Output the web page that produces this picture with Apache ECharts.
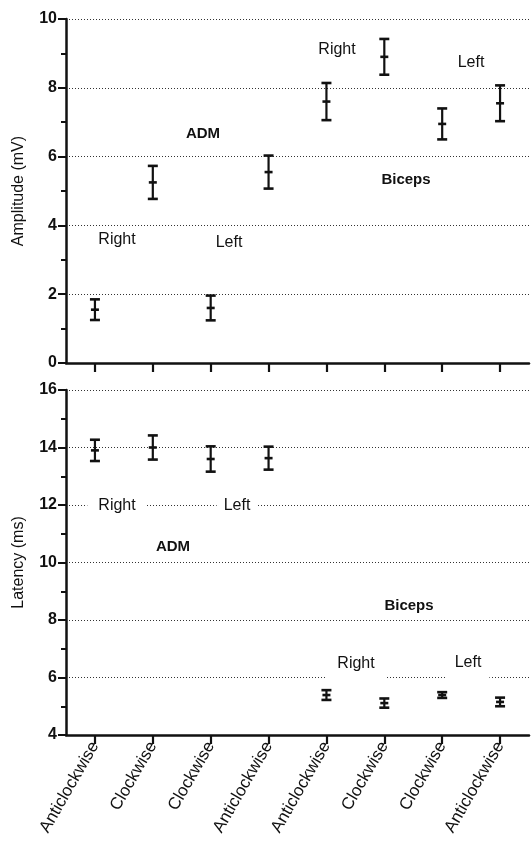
<!DOCTYPE html>
<html>
<head>
<meta charset="utf-8">
<script src="https://cdn.jsdelivr.net/npm/echarts@6/dist/echarts.min.js"></script>
<style>
  html, body { margin: 0; padding: 0; background: #fff; }
  #chart { width: 531px; height: 847px; }
</style>
</head>
<body>
<div id="chart"></div>
<script>
// Rotation direction for each stimulation condition (x axis)
const categories = ['Anticlockwise', 'Clockwise', 'Clockwise', 'Anticlockwise',
                    'Anticlockwise', 'Clockwise', 'Clockwise', 'Anticlockwise'];

// Response amplitude (mV): mean and error
const amplitudeMean = [1.55, 5.25, 1.6, 5.55, 7.6, 8.9, 6.95, 7.55];
const amplitudeErr  = [0.30, 0.48, 0.36, 0.48, 0.54, 0.52, 0.45, 0.52];

// Response latency (ms): mean and error
const latencyMean = [13.9, 14.0, 13.6, 13.63, 5.39, 5.11, 5.39, 5.15];
const latencyErr  = [0.37, 0.42, 0.44, 0.40, 0.17, 0.16, 0.10, 0.15];

// Y axis ranges
const amplitudeAxis = { min: 0, max: 10, interval: 2 };
const latencyAxis   = { min: 4, max: 16, interval: 2 };

const INK = '#111';
const FONT = 'Liberation Sans, Arial, Helvetica, sans-serif';

function toRows(means, errs) {
  return means.map((m, i) => [i, m, errs[i]]);
}

// Error bar: vertical whisker, end caps and a short tick at the mean
function renderErrorBar(params, api) {
  const x = api.value(0), m = api.value(1), e = api.value(2);
  const top = api.coord([x, m + e]);
  const bot = api.coord([x, m - e]);
  const mid = api.coord([x, m]);
  const cap = 5, tick = 4;
  const style = { stroke: INK, lineWidth: 2.6 };
  return {
    type: 'group',
    children: [
      { type: 'line', shape: { x1: top[0], y1: top[1], x2: bot[0], y2: bot[1] }, style: { stroke: INK, lineWidth: 2.2 } },
      { type: 'line', shape: { x1: top[0] - cap, y1: top[1], x2: top[0] + cap, y2: top[1] }, style },
      { type: 'line', shape: { x1: bot[0] - cap, y1: bot[1], x2: bot[0] + cap, y2: bot[1] }, style },
      { type: 'line', shape: { x1: mid[0] - tick, y1: mid[1], x2: mid[0] + tick, y2: mid[1] }, style }
    ]
  };
}

function xAxisFor(gridIndex, showLabels) {
  return {
    type: 'category',
    gridIndex,
    data: categories,
    boundaryGap: true,
    axisLine: { show: true, lineStyle: { color: INK, width: 2.5 } },
    axisTick: { show: true, alignWithLabel: true, length: 9, lineStyle: { color: INK, width: 2.2 } },
    axisLabel: {
      show: showLabels, rotate: 60, margin: 8, interval: 0,
      color: INK, fontSize: 17, fontFamily: FONT
    },
    splitLine: { show: false }
  };
}

function yAxisFor(gridIndex, range, name) {
  return {
    type: 'value',
    gridIndex,
    min: range.min, max: range.max, interval: range.interval,
    name,
    nameLocation: 'middle',
    nameGap: 39,
    nameTextStyle: { color: INK, fontSize: 16, fontFamily: FONT },
    axisLine: { show: true, lineStyle: { color: INK, width: 2.5 } },
    axisTick: { show: true, length: 8, lineStyle: { color: INK, width: 2 } },
    minorTick: { show: true, splitNumber: 2, length: 5, lineStyle: { color: INK, width: 2 } },
    axisLabel: { color: INK, fontSize: 16, fontWeight: 'bold', fontFamily: FONT, margin: 9 },
    splitLine: { show: true, lineStyle: { color: '#333', width: 1, type: [1, 2] } }
  };
}

// Text annotations; boxed ones sit on a white background that interrupts the grid line
function label(text, x, y, bold, pad) {
  const el = {
    type: 'text',
    x, y, z: 50,
    style: {
      text,
      font: (bold ? 'bold 15px ' : '16px ') + FONT,
      fill: INK,
      align: 'center',
      verticalAlign: 'middle'
    }
  };
  if (pad) {
    el.style.backgroundColor = '#fff';
    el.style.padding = pad;
  }
  return el;
}

const chart = echarts.init(document.getElementById('chart'), null, { renderer: 'canvas' });

chart.setOption({
  backgroundColor: '#fff',
  animation: false,
  grid: [
    { left: 66, right: 2, top: 19, bottom: 484 },
    { left: 66, right: 2, top: 390, bottom: 112 }
  ],
  xAxis: [xAxisFor(0, false), xAxisFor(1, true)],
  yAxis: [
    yAxisFor(0, amplitudeAxis, 'Amplitude (mV)'),
    yAxisFor(1, latencyAxis, 'Latency (ms)')
  ],
  series: [
    {
      type: 'custom', name: 'Amplitude', xAxisIndex: 0, yAxisIndex: 0,
      encode: { x: 0, y: 1 },
      data: toRows(amplitudeMean, amplitudeErr),
      renderItem: renderErrorBar, z: 10
    },
    {
      type: 'custom', name: 'Latency', xAxisIndex: 1, yAxisIndex: 1,
      encode: { x: 0, y: 1 },
      data: toRows(latencyMean, latencyErr),
      renderItem: renderErrorBar, z: 10
    }
  ],
  graphic: [
    // Amplitude panel
    label('Right', 117, 240, false),
    label('Left', 229, 243, false),
    label('ADM', 203, 134, true),
    label('Right', 337, 50, false),
    label('Left', 471, 63, false),
    label('Biceps', 406, 180, true),
    // Latency panel
    label('Right', 117, 506, false, [2, 11, 2, 11]),
    label('Left', 237, 506, false, [2, 7, 2, 7]),
    label('ADM', 173, 547, true),
    label('Biceps', 409, 606, true),
    label('Right', 356, 664, false, [2, 11, 14, 11]),
    label('Left', 468, 663, false, [2, 8, 15, 8])
  ]
});
</script>
</body>
</html>
